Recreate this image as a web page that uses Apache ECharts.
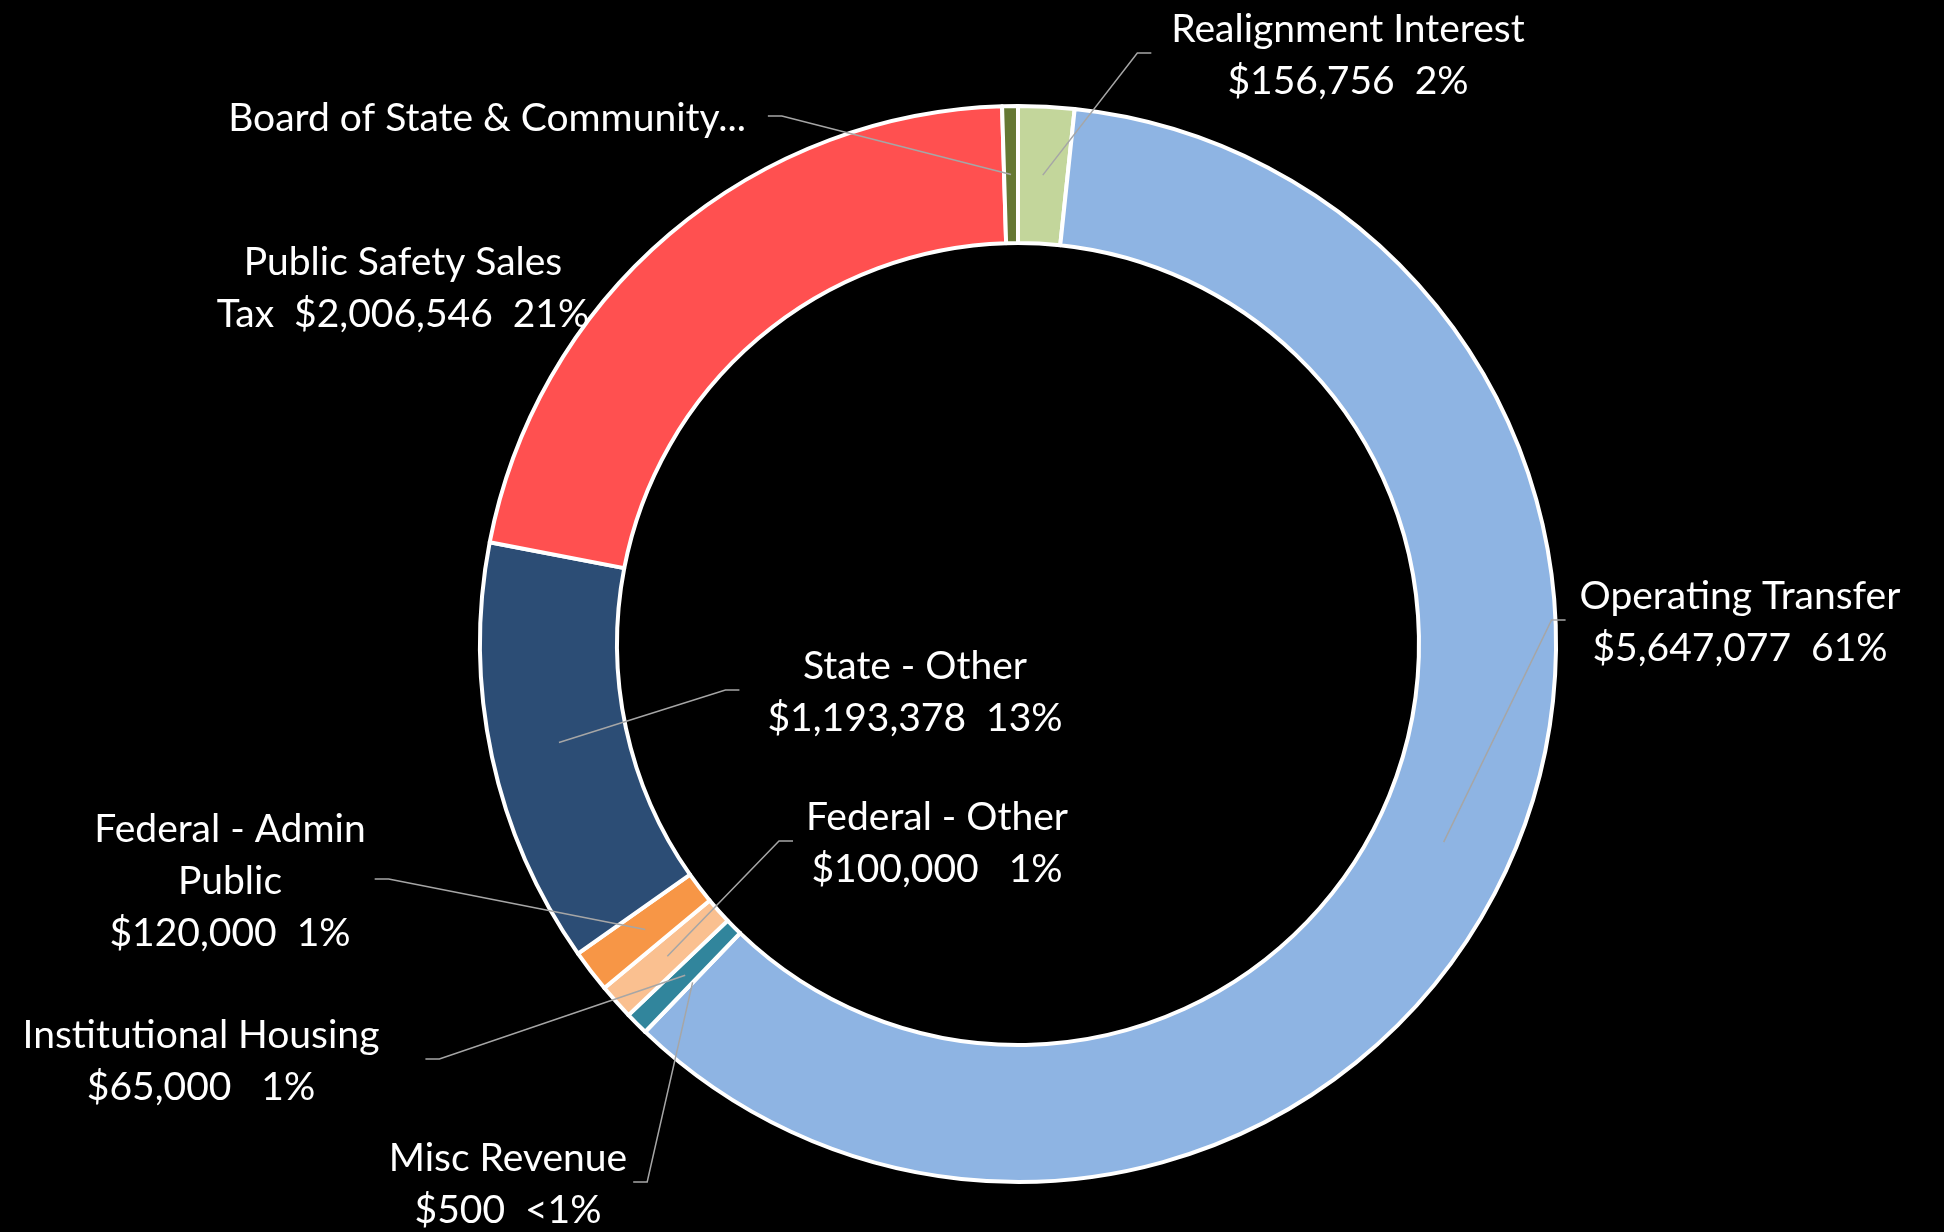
<!DOCTYPE html>
<html>
<head>
<meta charset="utf-8">
<script src="https://cdn.jsdelivr.net/npm/echarts@6/dist/echarts.min.js"></script>
<style>
  html, body { margin: 0; padding: 0; background: #000; }
  #chart { width: 1944px; height: 1232px; }
</style>
</head>
<body>
<div id="chart"></div>
<script>
  // slices, clockwise from 12 o'clock
  const categories = ['Realignment Interest', 'Operating Transfer', 'Misc Revenue', 'Institutional Housing',
    'Federal - Other', 'Federal - Admin Public', 'State - Other', 'Public Safety Sales Tax',
    'Board of State & Community Corrections'];
  const amounts = [156756, 5647077, 500, 65000, 100000, 120000, 1193378, 2006546, 44000];
  // label text as it is wrapped on the chart
  const labelNames = ['Realignment Interest\n', 'Operating Transfer\n', 'Misc Revenue\n', 'Institutional Housing\n',
    'Federal - Other\n', 'Federal - Admin\nPublic\n', 'State - Other\n', 'Public Safety Sales\nTax  ',
    'Board of State & Community...'];
  const showAmount = [true, true, true, true, true, true, true, true, false];
  const pctSpaces = [2, 2, 2, 3, 3, 2, 2, 2, 0];
  const colors = ['#C3D69B', '#8EB4E3', '#4BACC6', '#31859C', '#FAC090', '#F79646', '#2C4D75', '#FF5050', '#657833'];

  // label block centre [x, y], side of the leader line ('l' = line on the left of the text), gap
  const labelPlaces = [
    [1348, 55, 'l', 20], [1740, 622, 'l', 14], [508, 1184, 'r', 6], [201, 1061, 'r', 46],
    [937, 843, 'l', 13], [230, 881, 'r', 9], [915, 692, 'l', 28], [403, 288, null, 0], [487, 118, 'r', 22]
  ];

  const CX = 1018, CY = 644, R0 = 401, R1 = 538;
  const total = amounts.reduce((a, b) => a + b, 0);

  function money(v) {
    return '$' + v.toString().replace(/\B(?=(\d{3})+(?!\d))/g, ',');
  }
  function pct(v) {
    const p = Math.round(v / total * 100);
    return p < 1 ? '<1%' : p + '%';
  }
  function midAngle(i) {
    let cum = 0;
    for (let k = 0; k < i; k++) cum += amounts[k];
    return (cum + amounts[i] / 2) / total * Math.PI * 2;
  }

  const chart = echarts.init(document.getElementById('chart'));
  chart.setOption({
    backgroundColor: '#000',
    animation: false,
    series: [{
      // the ring
      type: 'pie',
      center: [CX, CY],
      radius: [R0, R1],
      startAngle: 90,
      clockwise: true,
      itemStyle: { borderColor: '#fff', borderWidth: 4 },
      label: { show: false },
      labelLine: { show: false },
      data: categories.map((name, i) => ({ name: name, value: amounts[i], itemStyle: { color: colors[i] } }))
    }, {
      // same ring, invisible, carrying labels and leader lines on top
      type: 'pie',
      z: 5,
      silent: true,
      center: [CX, CY],
      radius: [R0, R1],
      startAngle: 90,
      clockwise: true,
      avoidLabelOverlap: false,
      itemStyle: { color: 'rgba(0,0,0,0)', borderWidth: 0 },
      label: {
        color: '#fff',
        fontFamily: 'Lato',
        fontSize: 39,
        lineHeight: 52,
        align: 'center',
        formatter: p => {
          const i = p.dataIndex;
          if (!showAmount[i]) return labelNames[i];
          return labelNames[i] + money(amounts[i]) + ' '.repeat(pctSpaces[i]) + pct(amounts[i]);
        }
      },
      labelLine: { show: true, lineStyle: { color: '#A6A6A6', width: 1.5 } },
      labelLayout: function (params) {
        const i = params.dataIndex;
        const pl = labelPlaces[i];
        const w = params.labelRect.width;
        const out = { x: pl[0], y: pl[1], align: 'center', verticalAlign: 'middle' };
        if (pl[2]) {
          const a = midAngle(i);
          const rm = (R0 + R1) / 2;
          const p0 = [CX + rm * Math.sin(a), CY - rm * Math.cos(a)];
          const ex = pl[2] === 'l' ? pl[0] - w / 2 - pl[3] : pl[0] + w / 2 + pl[3];
          const bx = pl[2] === 'l' ? ex - 14 : ex + 14;
          out.labelLinePoints = [p0, [bx, pl[1] - 2], [ex, pl[1] - 2]];
        }
        return out;
      },
      data: categories.map((name, i) => ({
        name: name,
        value: amounts[i],
        labelLine: { show: !!labelPlaces[i][2] }
      }))
    }]
  });
</script>
</body>
</html>
